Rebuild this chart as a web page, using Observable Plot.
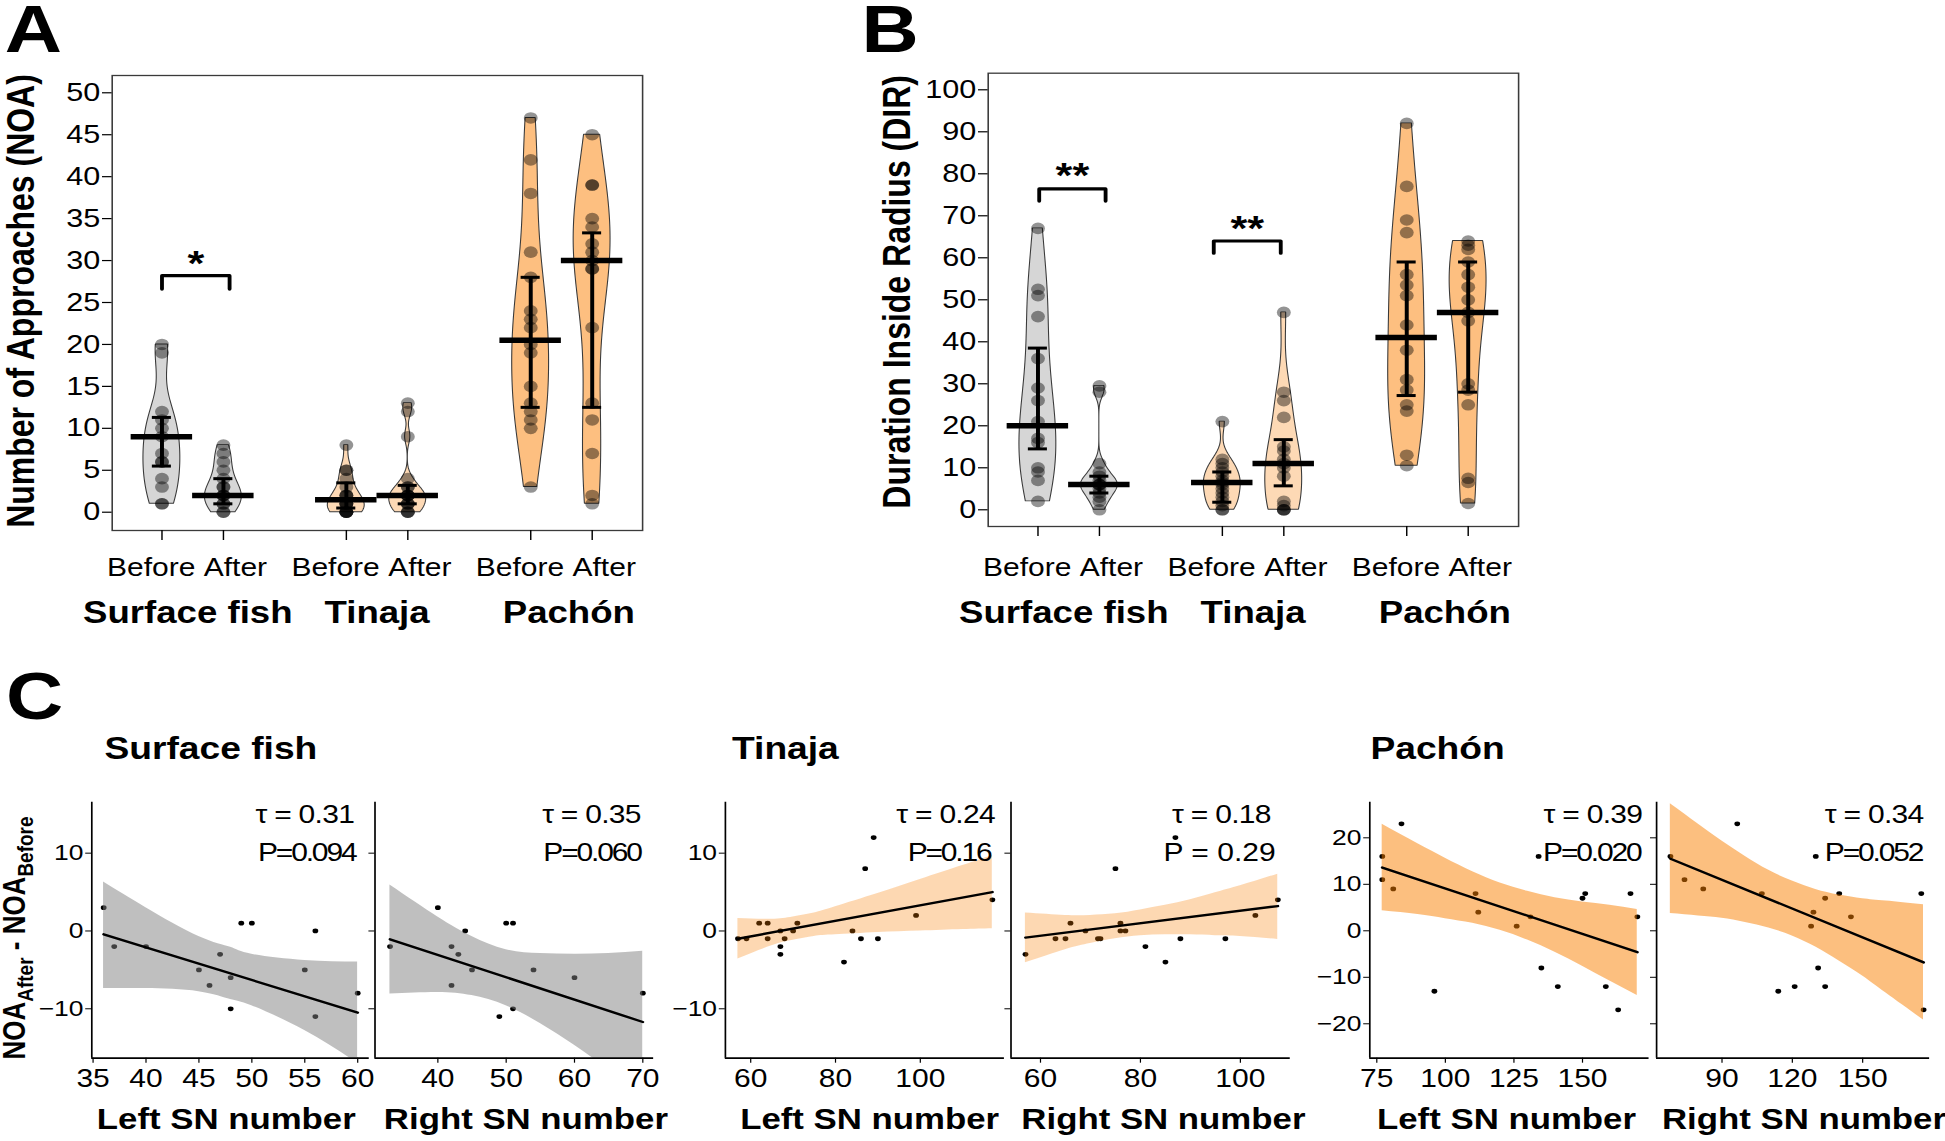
<!DOCTYPE html>
<html><head><meta charset="utf-8">
<script src="https://cdn.jsdelivr.net/npm/d3@7"></script>
<script src="https://cdn.jsdelivr.net/npm/@observablehq/plot@0.6"></script>
<style>
html,body{margin:0;padding:0;background:#fff;overflow:hidden;}
#fig{position:relative;width:1621px;height:1141px;transform:scaleX(1.2);transform-origin:0 0;}
#fig svg{position:absolute;overflow:visible;max-width:none;}
</style></head><body><div id="fig"></div>
<script>
const FONT = '"Liberation Sans", Arial, Helvetica, sans-serif';

// ---------------- DATA: panels A and B ----------------
const catPos = [0, 1, 3, 4, 6, 7];
const catLabel = ["Before", "After", "Before", "After", "Before", "After"];
const beforePos = [0, 3, 6], afterPos = [1, 4, 7];
const groupNames = ["Surface fish", "Tinaja", "Pachón"];

const noaSurfaceBefore = [20, 19, 12, 11, 10, 9, 7, 6, 6, 4, 3, 1, 1];
const noaSurfaceAfter  = [8, 7, 6, 5, 4, 3, 3, 2, 2, 2, 1, 1, 0, 0];
const noaTinajaBefore  = [8, 5, 5, 4, 3, 2, 2, 2, 1, 1, 1, 1, 0, 0, 0, 0, 0];
const noaTinajaAfter   = [13, 12, 9, 4, 3, 3, 2, 2, 2, 2, 1, 1, 1, 0, 0, 0];
const noaPachonBefore  = [47, 42, 38, 31, 28, 24, 23, 22, 20, 19, 15, 13, 12, 11, 10, 3];
const noaPachonAfter   = [45, 39, 39, 35, 34, 32, 31, 30, 29, 29, 22, 13, 11, 7, 2, 1];
const noaCenter = [9, 2, 1.5, 2, 20.5, 30];
const noaLow    = [5.5, 1, 0.5, 1, 12.5, 12.5];
const noaHigh   = [11.3, 4, 3.5, 3.2, 28, 33.3];
const noaTicks  = [0, 5, 10, 15, 20, 25, 30, 35, 40, 45, 50];
const noaSigX1 = [0], noaSigX2 = [1.1], noaSigTop = [28.2], noaSigLeg = [26.6], noaSigY = [29.6], noaSigText = ["*"];

const dirSurfaceBefore = [67, 52.5, 51, 46, 36, 29, 26, 21, 17, 16, 10, 9, 7, 2];
const dirSurfaceAfter  = [29.5, 28, 11, 9, 8, 7, 6, 6, 6, 5, 4, 3, 2, 0];
const dirTinajaBefore  = [21, 12, 11, 10, 9, 8, 7, 6.5, 6, 5, 4, 3, 2, 1, 0, 0];
const dirTinajaAfter   = [47, 28, 26, 22, 15, 14, 12, 11, 10, 8, 2, 1, 0, 0, 0];
const dirPachonBefore  = [92, 77, 69, 66, 56, 53.5, 51, 44, 38, 31, 28.5, 25, 23.5, 13, 10.5];
const dirPachonAfter   = [64, 63, 62, 59, 56, 53, 50, 47, 45, 30, 28.5, 25, 7.5, 6.5, 1.5];
const dirCenter = [20, 6, 6.5, 11, 41, 47];
const dirLow    = [14.5, 4, 1.8, 5.7, 27.2, 28];
const dirHigh   = [38.5, 8, 9, 16.7, 59, 59];
const dirTicks  = [0, 10, 20, 30, 40, 50, 60, 70, 80, 90, 100];
const dirSigX1 = [0.02, 2.86], dirSigX2 = [1.1, 3.95], dirSigTop = [76.4, 64], dirSigLeg = [73.5, 61.1], dirSigY = [79.5, 66.9], dirSigText = ["**", "**"];

// ---------------- DATA: panel C ----------------
const sfLeftX  = [36, 37, 40, 45, 46, 47, 48, 48, 49, 50, 55, 56, 56, 60];
const sfLeftY  = [3, -2, -2, -5, -7, -3, -6, -10, 1, 1, -5, 0, -11, -8];
const sfLeftFitX = [36, 60], sfLeftFitY = [-0.43, -10.5];
const sfLeftBandX  = [36, 40, 45, 48, 50, 55, 60];
const sfLeftBandHi = [6.3, 3.0, -0.7, -2.1, -3.0, -3.8, -4.0];
const sfLeftBandLo = [-7.4, -7.4, -7.8, -8.8, -9.6, -12.8, -17.0];

const sfRightX = [33, 40, 42, 42, 43, 44, 45, 49, 50, 51, 51, 54, 60, 70];
const sfRightY = [-2, 3, -2, -7, -3, 0, -5, -11, 1, 1, -10, -5, -6, -8];
const sfRightFitX = [33, 70], sfRightFitY = [-1.07, -11.7];
const sfRightBandX  = [33, 40, 45, 50, 55, 60, 65, 70];
const sfRightBandHi = [5.9, 1.8, -0.7, -2.4, -2.9, -3.0, -2.9, -2.6];
const sfRightBandLo = [-8.1, -7.9, -8.3, -9.6, -11.9, -14.7, -17.8, -21.0];

const tjLeftX = [57, 59, 62, 64, 64, 67, 67, 67, 68, 70, 71, 82, 84, 86, 87, 89, 90, 99, 117];
const tjLeftY = [-1, -1, 1, 1, -1, 0, -2, -3, -1, 0, 1, -4, 0, -1, 8, 12, -1, 2, 4];
const tjLeftFitX = [57, 117], tjLeftFitY = [-1.0, 5.0];
const tjLeftBandX  = [57, 65, 70, 75, 80, 90, 100, 110, 117];
const tjLeftBandHi = [1.6, 1.5, 1.8, 2.3, 3.1, 4.8, 6.6, 8.4, 9.7];
const tjLeftBandLo = [-3.6, -1.9, -1.2, -0.7, -0.5, -0.2, 0.0, 0.2, 0.3];

const tjRightX = [57, 63, 65, 66, 69, 71.5, 72, 75, 76, 76, 77, 81, 85, 87, 88, 97, 103, 107.5];
const tjRightY = [-3, -1, -1, 1, 0, -1, -1, 8, 1, 0, 0, -2, -4, 12, -1, -1, 2, 4];
const tjRightFitX = [57, 107.5], tjRightFitY = [-0.86, 3.2];
const tjRightBandX  = [57, 65, 70, 75, 80, 85, 90, 95, 100, 107.5];
const tjRightBandHi = [2.3, 2.0, 2.0, 2.2, 2.7, 3.3, 4.0, 4.9, 5.8, 7.3];
const tjRightBandLo = [-4.1, -2.4, -1.6, -1.0, -0.6, -0.5, -0.5, -0.6, -0.7, -1.1];

const pcLeftX = [77, 77, 81, 84, 96, 111, 112, 126, 131, 134, 135, 141, 150, 151, 158.5, 163, 167.5, 170];
const pcLeftY = [16, 11, 9, 23, -13, 8, 4, 1, 3, 16, -8, -12, 7, 8, -12, -17, 8, 3];
const pcLeftFitX = [77, 170], pcLeftFitY = [13.6, -4.6];
const pcLeftBandX  = [77, 90, 100, 110, 120, 130, 140, 150, 160, 170];
const pcLeftBandHi = [22.9, 18.7, 15.6, 12.7, 10.3, 8.5, 7.1, 6.2, 5.5, 4.6];
const pcLeftBandLo = [4.3, 3.5, 2.6, 1.6, 0.1, -2.0, -4.6, -7.6, -10.8, -13.9];

const pcRightX = [68, 74, 82, 96.5, 107, 114, 121, 128, 129, 130, 131, 134, 134, 140, 145, 175, 176];
const pcRightY = [16, 11, 9, 23, 8, -13, -12, 1, 4, 16, -8, 7, -12, 8, 3, 8, -17];
const pcRightFitX = [68, 176], pcRightFitY = [15.5, -6.8];
const pcRightBandX  = [68, 80, 90, 100, 110, 120, 130, 140, 150, 160, 176];
const pcRightBandHi = [27.3, 22.9, 19.3, 16.0, 13.0, 10.7, 8.9, 7.7, 6.9, 6.4, 5.6];
const pcRightBandLo = [3.7, 3.2, 2.7, 1.8, 0.6, -1.1, -3.5, -6.5, -9.7, -13.4, -19.2];

const tauText = ["τ = 0.31", "τ = 0.35", "τ = 0.24", "τ = 0.18", "τ = 0.39", "τ = 0.34"];
const pText   = ["P=0.094", "P=0.060", "P=0.16", "P = 0.29", "P=0.020", "P=0.052"];
const xTitles = ["Left SN number", "Right SN number", "Left SN number", "Right SN number", "Left SN number", "Right SN number"];
const ticksSmall = [-10, 0, 10];
const ticksLarge = [-20, -10, 0, 10, 20];

// ---------------- styles / layout ----------------
const groupLabelPos = [0.42, 3.5, 6.62];
const fillSurface = "#d6d6d6", fillTinaja = "#fdd9b5", fillPachon = "#fdbf80";
const catFill = [fillSurface, fillSurface, fillTinaja, fillTinaja, fillPachon, fillPachon];
const fig = document.getElementById("fig");
const fmtNum = d => (d < 0 ? "\u2212" + Math.abs(d) : String(d));

function violinRows(values, pos, halfW) {
  const n = values.length;
  const sd = d3.deviation(values);
  const iqr = d3.quantile(values, 0.75) - d3.quantile(values, 0.25);
  let s = Math.min(sd, iqr / 1.34);
  if (!(s > 0)) s = sd;
  const bw = 0.9 * s * Math.pow(n, -0.2);
  const [mn, mx] = d3.extent(values);
  const N = 160;
  const rows = d3.range(N + 1).map(i => {
    const y = mn + (mx - mn) * i / N;
    return {y, d: d3.sum(values, v => Math.exp(-0.5 * ((y - v) / bw) ** 2))};
  });
  const m = d3.max(rows, r => r.d);
  return rows.map(r => ({y: r.y, x1: pos - halfW * r.d / m, x2: pos + halfW * r.d / m}));
}

function violinPanel(c) {
  const marks = [];
  c.series.forEach((vals, i) => {
    marks.push(Plot.areaX(violinRows(vals, catPos[i], 0.30),
      {y: "y", x1: "x1", x2: "x2", fill: catFill[i], stroke: "#3a3a3a", strokeWidth: 0.9}));
  });
  const pts = c.series.flatMap((vals, i) => vals.map(v => ({x: catPos[i], y: v})));
  marks.push(Plot.dot(pts, {x: "x", y: "y", r: 5.8, fill: "black", fillOpacity: 0.42}));
  const summ = catPos.map((p, i) => ({p, m: c.center[i], lo: c.low[i], hi: c.high[i]}));
  marks.push(Plot.ruleX(summ, {x: "p", y1: "lo", y2: "hi", stroke: "black", strokeWidth: 3.3}));
  marks.push(Plot.ruleY(summ, {y: "lo", x1: d => d.p - 0.155, x2: d => d.p + 0.155, stroke: "black", strokeWidth: 3}));
  marks.push(Plot.ruleY(summ, {y: "hi", x1: d => d.p - 0.155, x2: d => d.p + 0.155, stroke: "black", strokeWidth: 3}));
  marks.push(Plot.ruleY(summ, {y: "m", x1: d => d.p - 0.5, x2: d => d.p + 0.5, stroke: "black", strokeWidth: 5.5}));
  c.sig.x1.forEach((x1, i) => {
    const x2 = c.sig.x2[i], top = c.sig.top[i], leg = c.sig.leg[i];
    marks.push(Plot.line([[x1, leg], [x1, top], [x2, top], [x2, leg]], {stroke: "black", strokeWidth: 3.2}));
  });
  marks.push(Plot.text(c.sig.text, {x: c.sig.x1.map((x, i) => (x + c.sig.x2[i]) / 2), y: c.sig.y, text: d => d,
    fontSize: 36, fontWeight: "bold"}));
  marks.push(Plot.frame({stroke: "#3a3a3a", strokeWidth: 1.3}));
  marks.push(Plot.axisY({ticks: c.yticks, tickFormat: fmtNum, tickSize: 8, tickPadding: 2, fontSize: 25.5, label: null, strokeWidth: 1.2}));
  marks.push(Plot.axisX({ticks: catPos, tickFormat: () => "", tickSize: 10, label: null, strokeWidth: 1.2}));
  marks.push(Plot.text(beforePos, {x: d => d, text: d => catLabel[catPos.indexOf(d)], frameAnchor: "bottom",
    lineAnchor: "middle", textAnchor: "middle", dx: -9, dy: c.xLabDy, fontSize: 25}));
  marks.push(Plot.text(afterPos, {x: d => d, text: d => catLabel[catPos.indexOf(d)], frameAnchor: "bottom",
    lineAnchor: "middle", textAnchor: "middle", dx: 10, dy: c.xLabDy, fontSize: 25}));
  marks.push(Plot.text(groupNames, {x: groupLabelPos, text: d => d, frameAnchor: "bottom", lineAnchor: "middle",
    dy: c.groupDy, fontSize: 30.5, fontWeight: "bold"}));
  marks.push(Plot.text([c.ylabel], {frameAnchor: "left", rotate: -90, lineAnchor: "middle", textAnchor: "middle",
    dx: -75, dy: c.ylabelDy, fontSize: 32, fontWeight: "bold"}));
  const svg = Plot.plot({
    width: 93 + 442 + 12, height: 645,
    marginLeft: 93, marginRight: 12, marginTop: c.frameTop, marginBottom: 645 - c.frameBottom,
    x: {domain: [-0.81, 7.82], axis: null},
    y: {domain: c.ydomain, axis: null},
    style: {fontFamily: FONT, background: "transparent", overflow: "visible"},
    marks
  });
  svg.style.left = c.left + "px";
  svg.style.top = "0px";
  fig.appendChild(svg);
}

violinPanel({
  series: [noaSurfaceBefore, noaSurfaceAfter, noaTinajaBefore, noaTinajaAfter, noaPachonBefore, noaPachonAfter],
  center: noaCenter, low: noaLow, high: noaHigh, yticks: noaTicks, ydomain: [-2.18, 52.06],
  sig: {x1: noaSigX1, x2: noaSigX2, top: noaSigTop, leg: noaSigLeg, y: noaSigY, text: noaSigText},
  ylabel: "Number of Approaches (NOA)", ylabelDy: -2,
  frameTop: 75, frameBottom: 530, xLabDy: 37, groupDy: 83, left: 0
});
violinPanel({
  series: [dirSurfaceBefore, dirSurfaceAfter, dirTinajaBefore, dirTinajaAfter, dirPachonBefore, dirPachonAfter],
  center: dirCenter, low: dirLow, high: dirHigh, yticks: dirTicks, ydomain: [-3.98, 103.95],
  sig: {x1: dirSigX1, x2: dirSigX2, top: dirSigTop, leg: dirSigLeg, y: dirSigY, text: dirSigText},
  ylabel: "Duration Inside Radius (DIR)", ylabelDy: -8,
  frameTop: 72.7, frameBottom: 526, xLabDy: 41, groupDy: 87, left: 730.25
});

// ---------------- panel C ----------------
const scLeft  = [75.9, 311.5, 604.3, 842.2, 1140.9, 1380.2];
const scRight = [307.2, 543.8, 836.9, 1075, 1373.7, 1607.8];
const scTauDx = [12.7, 10.8, 8, 16.4, 5.8, 5.2];
const scPDx   = [11.6, 10.8, 11.6, 12.3, 7.2, 6.2];
const scTitleDx = [-3.6, 9.6, 3.9, 10.6, -2.5, 9];
const bandGray = "#808080", bandOrange = "#fa7f00";

const scPanels = [
  {x: sfLeftX, y: sfLeftY, fx: sfLeftFitX, fy: sfLeftFitY, bx: sfLeftBandX, bh: sfLeftBandHi, bl: sfLeftBandLo,
   xdomain: [34.88, 61.1], ydomain: [-16.35, 16.55], xticks: [35, 40, 45, 50, 55, 60], yticks: ticksSmall, showY: true, fill: bandGray, op: 0.5},
  {x: sfRightX, y: sfRightY, fx: sfRightFitX, fy: sfRightFitY, bx: sfRightBandX, bh: sfRightBandHi, bl: sfRightBandLo,
   xdomain: [30.8, 71.6], ydomain: [-16.35, 16.55], xticks: [40, 50, 60, 70], yticks: ticksSmall, showY: false, fill: bandGray, op: 0.5},
  {x: tjLeftX, y: tjLeftY, fx: tjLeftFitX, fy: tjLeftFitY, bx: tjLeftBandX, bh: tjLeftBandHi, bl: tjLeftBandLo,
   xdomain: [54.03, 119.86], ydomain: [-16.35, 16.55], xticks: [60, 80, 100], yticks: ticksSmall, showY: true, fill: bandOrange, op: 0.3},
  {x: tjRightX, y: tjRightY, fx: tjRightFitX, fy: tjRightFitY, bx: tjRightBandX, bh: tjRightBandHi, bl: tjRightBandLo,
   xdomain: [54.1, 110], ydomain: [-16.35, 16.55], xticks: [60, 80, 100], yticks: ticksSmall, showY: false, fill: bandOrange, op: 0.3},
  {x: pcLeftX, y: pcLeftY, fx: pcLeftFitX, fy: pcLeftFitY, bx: pcLeftBandX, bh: pcLeftBandHi, bl: pcLeftBandLo,
   xdomain: [72.45, 174.3], ydomain: [-27.4, 27.66], xticks: [75, 100, 125, 150], yticks: ticksLarge, showY: true, fill: bandOrange, op: 0.5},
  {x: pcRightX, y: pcRightY, fx: pcRightFitX, fy: pcRightFitY, bx: pcRightBandX, bh: pcRightBandHi, bl: pcRightBandLo,
   xdomain: [62.1, 178.6], ydomain: [-27.4, 27.66], xticks: [90, 120, 150], yticks: ticksLarge, showY: false, fill: bandOrange, op: 0.5}
];

scPanels.forEach((c, k) => {
  const ml = 50, mr = 4, mt = 41.7, mb = 83.3, ph = 256;
  const w = scRight[k] - scLeft[k];
  const pts = c.x.map((x, i) => ({x, y: c.y[i]}));
  const band = c.bx.map((x, i) => ({x, lo: c.bl[i], hi: c.bh[i]}));
  const fit = c.fx.map((x, i) => ({x, y: c.fy[i]}));
  const svg = Plot.plot({
    width: ml + w + mr, height: mt + ph + mb,
    marginLeft: ml, marginRight: mr, marginTop: mt, marginBottom: mb,
    x: {domain: c.xdomain, axis: null},
    y: {domain: c.ydomain, axis: null},
    style: {fontFamily: FONT, background: "transparent", overflow: "visible"},
    marks: [
      Plot.dot(pts, {x: "x", y: "y", r: 2.4, fill: "black"}),
      Plot.areaY(band, {x: "x", y1: "lo", y2: "hi", fill: c.fill, fillOpacity: c.op, curve: "natural", clip: true}),
      Plot.line(fit, {x: "x", y: "y", stroke: "black", strokeWidth: 2.4, clip: true}),
      Plot.ruleX([c.xdomain[0]], {stroke: "black", strokeWidth: 1.4}),
      Plot.ruleY([c.ydomain[0]], {stroke: "black", strokeWidth: 1.8}),
      Plot.axisY({ticks: c.yticks, tickSize: 5, tickPadding: 2, fontSize: 22, label: null,
        tickFormat: c.showY ? fmtNum : () => ""}),
      Plot.axisX({ticks: c.xticks, tickSize: 5, tickPadding: 5.6, fontSize: 25, label: null, tickFormat: fmtNum}),
      Plot.text([tauText[k]], {frameAnchor: "top-right", textAnchor: "end", lineAnchor: "middle",
        dx: -scTauDx[k], dy: 12.6, fontSize: 25}),
      Plot.text([pText[k]], {frameAnchor: "top-right", textAnchor: "end", lineAnchor: "middle",
        dx: -scPDx[k], dy: 51, fontSize: 25}),
      Plot.text([xTitles[k]], {frameAnchor: "bottom", lineAnchor: "middle", textAnchor: "middle",
        dx: scTitleDx[k], dy: 62, fontSize: 29, fontWeight: "bold"})
    ]
  });
  d3.select(svg).selectAll("text").each(function () {
    const t = this.textContent;
    if (t.startsWith("P=")) this.setAttribute("letter-spacing", "-1.8");
    else if (t.startsWith("τ")) this.setAttribute("letter-spacing", "-0.6");
  });
  svg.style.left = (scLeft[k] - ml) + "px";
  svg.style.top = "760px";
  fig.appendChild(svg);
});

// ---------------- overlay: panel letters, headers, C y label ----------------
const panelLetters = ["A", "B", "C"];
const ov = d3.select(fig).append("svg").attr("width", 1621).attr("height", 1141)
  .style("left", "0px").style("top", "0px").attr("font-family", FONT);
ov.append("text").attr("x", 4).attr("y", 52).attr("font-size", 66).attr("font-weight", "bold").text(panelLetters[0]);
ov.append("text").attr("x", 718).attr("y", 52).attr("font-size", 66).attr("font-weight", "bold").text(panelLetters[1]);
ov.append("text").attr("x", 5).attr("y", 719).attr("font-size", 66).attr("font-weight", "bold").text(panelLetters[2]);
const headerX = [87, 610, 1142];
groupNames.forEach((g, i) => ov.append("text").attr("x", headerX[i]).attr("y", 759)
  .attr("font-size", 31).attr("font-weight", "bold").text(g));
const yl = ov.append("text").attr("transform", "translate(20.8,938) rotate(-90)")
  .attr("text-anchor", "middle").attr("font-size", 26).attr("font-weight", "bold");
yl.append("tspan").text("NOA");
yl.append("tspan").attr("font-size", 19).attr("dy", 7).text("After");
yl.append("tspan").attr("dy", -7).text(" - NOA");
yl.append("tspan").attr("font-size", 19).attr("dy", 7).text("Before");
</script></body></html>
